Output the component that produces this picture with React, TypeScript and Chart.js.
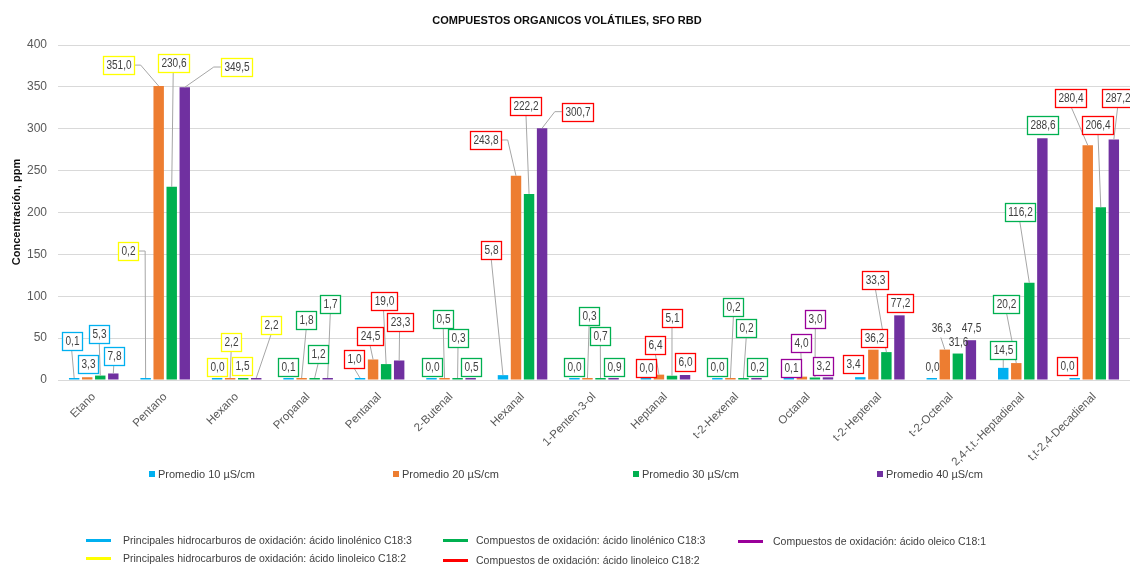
import React, { useEffect, useRef } from "react";
import { Chart, registerables } from "chart.js";

Chart.register(...registerables);

// ---- Data ----
const compounds = [
  "Etano",
  "Pentano",
  "Hexano",
  "Propanal",
  "Pentanal",
  "2-Butenal",
  "Hexanal",
  "1-Penten-3-ol",
  "Heptanal",
  "t-2-Hexenal",
  "Octanal",
  "t-2-Heptenal",
  "t-2-Octenal",
  "2,4-t,t.-Heptadienal",
  "t,t-2,4-Decadienal",
];

const promedio10 = [0.1, 0.2, 0.0, 0.1, 1.0, 0.0, 5.8, 0.0, 0.0, 0.0, 0.1, 3.4, 0.0, 14.5, 0.0];
const promedio20 = [3.3, 351.0, 2.2, 1.8, 24.5, 0.5, 243.8, 0.3, 6.4, 0.2, 4.0, 36.2, 36.3, 20.2, 280.4];
const promedio30 = [5.3, 230.6, 1.5, 1.2, 19.0, 0.3, 222.2, 0.7, 5.1, 0.2, 3.0, 33.3, 31.6, 116.2, 206.4];
const promedio40 = [7.8, 349.5, 2.2, 1.7, 23.3, 0.5, 300.7, 0.9, 6.0, 0.2, 3.2, 77.2, 47.5, 288.6, 287.2];

const seriesNames = [
  "Promedio 10 \u00b5S/cm",
  "Promedio 20 \u00b5S/cm",
  "Promedio 30 \u00b5S/cm",
  "Promedio 40 \u00b5S/cm",
];

const chartTitle = "COMPUESTOS ORGANICOS VOL\u00c1TILES, SFO RBD";
const yAxisTitle = "Concentraci\u00f3n, ppm";

const yMin = 0;
const yMax = 400;
const yStep = 50;

// Compound family of each category (drives the callout border colour)
const compoundFamily = [
  "hcLinolenico",
  "hcLinoleico",
  "hcLinoleico",
  "oxLinolenico",
  "oxLinoleico",
  "oxLinolenico",
  "oxLinoleico",
  "oxLinolenico",
  "oxLinoleico",
  "oxLinolenico",
  "oxOleico",
  "oxLinoleico",
  "",
  "oxLinolenico",
  "oxLinoleico",
];

const familyKeys = ["hcLinolenico", "oxLinolenico", "oxOleico", "hcLinoleico", "oxLinoleico"];
const familyNames = [
  "Principales hidrocarburos de oxidaci\u00f3n: \u00e1cido linol\u00e9nico C18:3",
  "Compuestos de oxidaci\u00f3n: \u00e1cido linol\u00e9nico C18:3",
  "Compuestos de oxidaci\u00f3n: \u00e1cido oleico C18:1",
  "Principales hidrocarburos de oxidaci\u00f3n: \u00e1cido linoleico C18:2",
  "Compuestos de oxidaci\u00f3n: \u00e1cido linoleico C18:2",
];

// ---- Styles ----
const seriesColors = ["#00B0F0", "#ED7D31", "#00B050", "#7030A0"];
const familyColors: Record<string, string> = {
  hcLinolenico: "#00B0F0",
  oxLinolenico: "#00B050",
  oxOleico: "#990099",
  hcLinoleico: "#FFFF00",
  oxLinoleico: "#FF0000",
};

// Callout placement per category and series: [x shift in px from the bar centre, height in axis units]
const calloutPlacement: number[][][] = [
  [[-2.5, 46.6], [0.5, 19.1], [-1, 55], [0.5, 28.7]],
  [[-17.5, 154], [-40.5, 376], [1.5, 378.8], [51.5, 373.7]],
  [[-0.4, 15.5], [1, 45.4], [-1, 16.7], [15, 65.7]],
  [[-0.4, 15.5], [4.6, 71.6], [3.6, 31], [2.6, 90.7]],
  [[-6, 25], [-3.2, 53.1], [-2.6, 94.3], [0.4, 69.3]],
  [[0, 15.5], [-1.3, 73.4], [0.4, 49.8], [0, 15.5]],
  [[-11.8, 155.8], [-30.8, 286.6], [-3.1, 327.4], [35.2, 320.4]],
  [[0, 15.5], [1.6, 76], [-0.2, 52.8], [0, 15.5]],
  [[0, 14.3], [-3.5, 41.2], [0, 74], [0, 21]],
  [[0, 15.5], [3, 87], [2.8, 62], [0.8, 15.9]],
  [[2, 14.3], [-1, 43.6], [0.4, 72.8], [-5, 16.3]],
  [[-7.6, 19.1], [0.2, 50.7], [-11, 119.4], [0.4, 91.6]],
  [[0, 15], [-4, 61.7], [0, 45.7], [0, 61.7]],
  [[0, 36.4], [-9.8, 91.1], [-9.6, 200.6], [0, 303.9]],
  [[-7.9, 16.4], [-16.8, 337.3], [-2.8, 304.8], [3.9, 337.3]],
];

const FONT = "'Liberation Sans', Arial, sans-serif";
const VALUE_SQUEEZE = 0.84; // value labels are set slightly condensed

const fmt = (v: number) => v.toFixed(1).replace(".", ",");

const calloutPlugin = {
  id: "callouts",
  afterDatasetsDraw(chart: any) {
    const ctx: CanvasRenderingContext2D = chart.ctx;
    const yScale = chart.scales.y;
    ctx.save();
    ctx.font = `12px ${FONT}`;
    const items: any[] = [];
    chart.data.datasets.forEach((ds: any, si: number) => {
      const meta = chart.getDatasetMeta(si);
      meta.data.forEach((bar: any, ci: number) => {
        const text = fmt(ds.data[ci]);
        const [dx, v] = calloutPlacement[ci][si];
        const cx = bar.x + dx;
        const cy = yScale.getPixelForValue(v);
        const w = Math.round(ctx.measureText(text).width * VALUE_SQUEEZE + 6);
        const h = 18;
        items.push({ text, cx, cy, w, h, tx: bar.x, ty: bar.y, fam: compoundFamily[ci] });
      });
    });

    // leader lines
    ctx.strokeStyle = "#a6a6a6";
    ctx.lineWidth = 1;
    items.forEach((it) => {
      const left = it.cx - it.w / 2;
      const right = it.cx + it.w / 2;
      const bottom = it.cy + it.h / 2;
      ctx.beginPath();
      if (it.tx < left - 5) {
        const stub = Math.min(7, left - it.tx);
        ctx.moveTo(left, it.cy);
        ctx.lineTo(left - stub, it.cy);
        ctx.lineTo(it.tx, it.ty);
      } else if (it.tx > right + 5) {
        const stub = Math.min(7, it.tx - right);
        ctx.moveTo(right, it.cy);
        ctx.lineTo(right + stub, it.cy);
        ctx.lineTo(it.tx, it.ty);
      } else {
        if (it.ty - bottom < 5) return;
        ctx.moveTo(it.cx, bottom);
        ctx.lineTo(it.tx, it.ty);
      }
      ctx.stroke();
    });

    // boxes and values
    items.forEach((it) => {
      const left = Math.round(it.cx - it.w / 2) + 0.5;
      const top = Math.round(it.cy - it.h / 2) + 0.5;
      if (it.fam) {
        ctx.fillStyle = "#ffffff";
        ctx.fillRect(left, top, it.w, it.h);
        ctx.strokeStyle = familyColors[it.fam];
        ctx.lineWidth = 1.3;
        ctx.strokeRect(left, top, it.w, it.h);
      }
      ctx.save();
      ctx.translate(left + it.w / 2, top + it.h / 2 + 0.5);
      ctx.scale(VALUE_SQUEEZE, 1);
      ctx.fillStyle = "#404040";
      ctx.textAlign = "center";
      ctx.textBaseline = "middle";
      ctx.fillText(it.text, 0, 0);
      ctx.restore();
    });

    // y axis title
    ctx.save();
    ctx.translate(17, 212);
    ctx.rotate(-Math.PI / 2);
    ctx.font = `bold 11px ${FONT}`;
    ctx.fillStyle = "#0d0d0d";
    ctx.textAlign = "center";
    ctx.textBaseline = "middle";
    ctx.fillText(yAxisTitle, 0, 0);
    ctx.restore();

    ctx.restore();
  },
};

const barLegendX = [149, 393, 633, 877];
// [marker x, text x, centre y]
const familyLegendPos = [
  [86, 123, 540],
  [443, 476, 540],
  [738, 773, 541],
  [86, 123, 558],
  [443, 476, 560],
];

export default function App() {
  const canvasRef = useRef<HTMLCanvasElement | null>(null);

  useEffect(() => {
    if (!canvasRef.current) return;
    const datasets = [promedio10, promedio20, promedio30, promedio40].map((data, i) => ({
      label: seriesNames[i],
      data,
      backgroundColor: seriesColors[i],
      borderWidth: 0,
      minBarLength: 2,
      categoryPercentage: 0.73,
      barPercentage: 0.8,
    }));
    const chart = new Chart(canvasRef.current, {
      type: "bar",
      data: { labels: compounds, datasets },
      options: {
        responsive: false,
        animation: false,
        layout: { padding: { top: 45, left: 0, right: 0, bottom: 0 } },
        plugins: {
          legend: { display: false },
          title: { display: false },
          tooltip: { enabled: false },
        },
        scales: {
          x: {
            grid: { display: false },
            border: { display: false },
            ticks: {
              autoSkip: false,
              minRotation: 45,
              maxRotation: 45,
              color: "#595959",
              font: { size: 11.5, family: FONT },
              padding: 2,
            },
            afterFit: (scale: any) => {
              scale.height = 186;
            },
          },
          y: {
            min: yMin,
            max: yMax,
            border: { display: false },
            grid: { color: "#d9d9d9", lineWidth: 1, drawTicks: false },
            ticks: {
              stepSize: yStep,
              color: "#595959",
              font: { size: 12, family: FONT },
              padding: 11,
            },
            afterFit: (scale: any) => {
              scale.width = 58;
            },
          },
        },
      },
      plugins: [calloutPlugin],
    });
    return () => chart.destroy();
  }, []);

  return (
    <div
      style={{
        position: "absolute",
        left: 0,
        top: 0,
        width: 1130,
        height: 566,
        background: "#ffffff",
        fontFamily: FONT,
        overflow: "hidden",
      }}
    >
      <canvas ref={canvasRef} width={1130} height={566} style={{ position: "absolute", left: 0, top: 0 }} />
      <div
        style={{
          position: "absolute",
          left: 367,
          top: 13,
          width: 400,
          textAlign: "center",
          fontSize: 11,
          lineHeight: "14px",
          fontWeight: "bold",
          color: "#0d0d0d",
        }}
      >
        {chartTitle}
      </div>
      {seriesNames.map((name, i) => (
        <div
          key={name}
          style={{
            position: "absolute",
            left: barLegendX[i],
            top: 467,
            height: 14,
            display: "flex",
            alignItems: "center",
            fontSize: 11,
            color: "#404040",
            whiteSpace: "nowrap",
          }}
        >
          <span style={{ width: 6, height: 6, background: seriesColors[i], marginRight: 3, display: "inline-block" }} />
          {name}
        </div>
      ))}
      {familyKeys.map((key, i) => (
        <React.Fragment key={key}>
          <div
            style={{
              position: "absolute",
              left: familyLegendPos[i][0],
              top: familyLegendPos[i][2] - 1.5,
              width: 25,
              height: 3,
              background: familyColors[key],
            }}
          />
          <div
            style={{
              position: "absolute",
              left: familyLegendPos[i][1],
              top: familyLegendPos[i][2] - 7,
              height: 14,
              lineHeight: "14px",
              fontSize: 10.5,
              color: "#404040",
              whiteSpace: "nowrap",
            }}
          >
            {familyNames[i]}
          </div>
        </React.Fragment>
      ))}
    </div>
  );
}
